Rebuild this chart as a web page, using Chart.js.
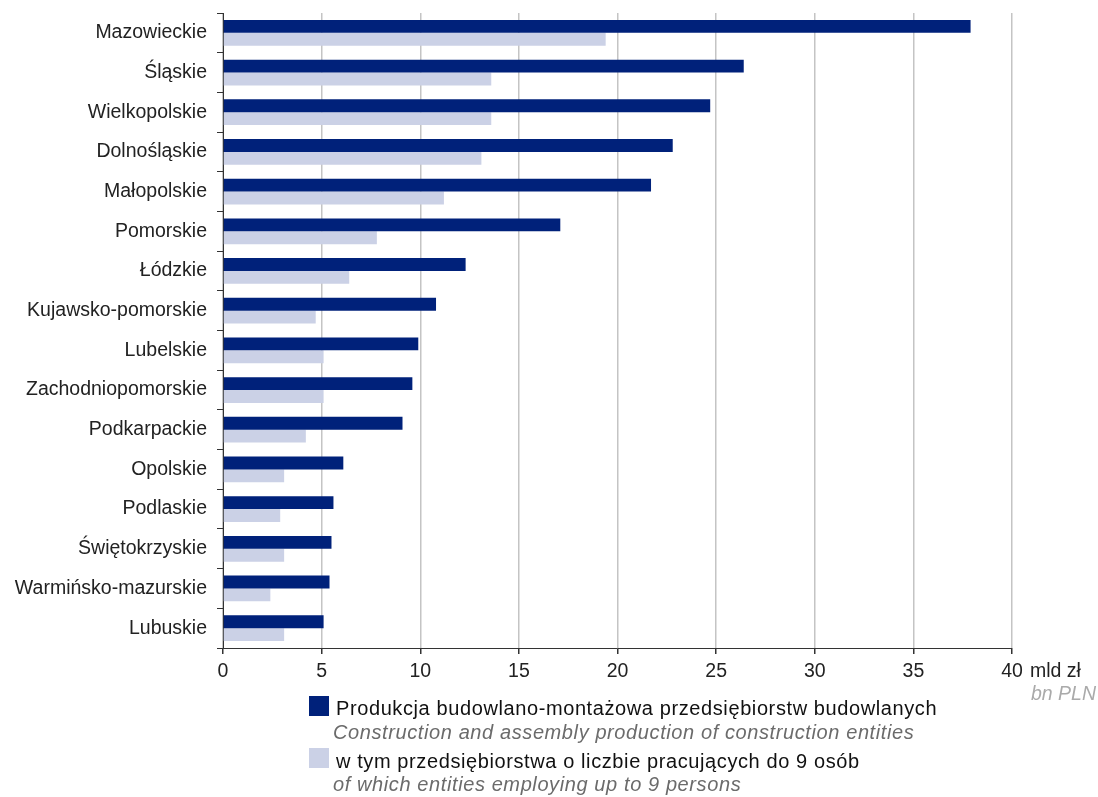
<!DOCTYPE html>
<html>
<head>
<meta charset="utf-8">
<script src="https://cdn.jsdelivr.net/npm/chart.js@4/dist/chart.umd.min.js"></script>
<style>
  body { margin: 0; background: #fff; }
  #wrap { width: 1098px; height: 797px; position: relative; }
</style>
</head>
<body>
<div id="wrap"><canvas id="chart"></canvas></div>
<script>
// Data
const regions = ['Mazowieckie', 'Śląskie', 'Wielkopolskie', 'Dolnośląskie', 'Małopolskie', 'Pomorskie', 'Łódzkie',
    'Kujawsko-pomorskie', 'Lubelskie', 'Zachodniopomorskie', 'Podkarpackie', 'Opolskie', 'Podlaskie',
    'Świętokrzyskie', 'Warmińsko-mazurskie', 'Lubuskie'];
const production = [37.9, 26.4, 24.7, 22.8, 21.7, 17.1, 12.3, 10.8, 9.9, 9.6, 9.1, 6.1, 5.6, 5.5, 5.4, 5.1];
const smallEntities = [19.4, 13.6, 13.6, 13.1, 11.2, 7.8, 6.4, 4.7, 5.1, 5.1, 4.2, 3.1, 2.9, 3.1, 2.4, 3.1];
const xTicks = [0, 5, 10, 15, 20, 25, 30, 35, 40];
const legendPl = ['Produkcja budowlano-montażowa przedsiębiorstw budowlanych', 'w tym przedsiębiorstwa o liczbie pracujących do 9 osób'];
const legendEn = ['Construction and assembly production of construction entities', 'of which entities employing up to 9 persons'];

const colors = {
    dark: '#00217a',
    light: '#cbd1e6'
};
const FONT = 'Liberation Sans, Arial, sans-serif';

// Unit labels and two-language legend drawn below the axis
const extras = {
    id: 'extras',
    afterDraw(chart) {
        const ctx = chart.ctx;
        const area = chart.chartArea;
        ctx.save();
        ctx.textBaseline = 'middle';
        ctx.font = '19.5px ' + FONT;
        ctx.fillStyle = '#222';
        ctx.textAlign = 'left';
        ctx.fillText('mld zł', area.right + 18, 672);
        ctx.font = 'italic 19.5px ' + FONT;
        ctx.fillStyle = '#aaaaaa';
        ctx.textAlign = 'right';
        ctx.fillText('bn PLN', 1096, 695);

        const rows = [
            { color: colors.dark, box: 696, pl: 709, en: 733 },
            { color: colors.light, box: 748, pl: 762, en: 785 }
        ];
        ctx.textAlign = 'left';
        ctx.letterSpacing = '0.6px';
        rows.forEach((r, i) => {
            ctx.fillStyle = r.color;
            ctx.fillRect(309, r.box, 20, 20);
            ctx.font = '20px ' + FONT;
            ctx.fillStyle = '#111';
            ctx.fillText(legendPl[i], 336, r.pl);
            ctx.font = 'italic 20px ' + FONT;
            ctx.fillStyle = '#6b6b6b';
            ctx.fillText(legendEn[i], 333, r.en);
        });
        ctx.restore();
    }
};

new Chart(document.getElementById('chart'), {
    type: 'bar',
    data: {
        labels: regions,
        datasets: [
            {
                label: legendPl[0],
                data: production,
                backgroundColor: colors.dark,
                categoryPercentage: 0.65,
                barPercentage: 1.0
            },
            {
                label: legendPl[1],
                data: smallEntities,
                backgroundColor: colors.light,
                categoryPercentage: 0.65,
                barPercentage: 1.0
            }
        ]
    },
    options: {
        indexAxis: 'y',
        responsive: true,
        maintainAspectRatio: false,
        animation: false,
        layout: {
            padding: { top: 13, right: 86, bottom: 119, left: 0 }
        },
        plugins: {
            legend: { display: false },
            tooltip: { enabled: false }
        },
        scales: {
            x: {
                min: 0,
                max: 40,
                afterBuildTicks: function(scale) {
                    scale.ticks = xTicks.map(v => ({ value: v }));
                },
                afterFit: function(scale) {
                    scale.height = 30;
                },
                border: { color: '#333', width: 1 },
                grid: {
                    color: '#c4c4c4',
                    lineWidth: 1.5,
                    tickColor: '#333',
                    tickLength: 6
                },
                ticks: {
                    color: '#222',
                    padding: 6,
                    font: { family: FONT, size: 19.5 }
                }
            },
            y: {
                afterFit: function(scale) {
                    scale.width = 223;
                    scale.paddingTop = 0;
                    scale.paddingBottom = 0;
                },
                border: { color: '#333', width: 1 },
                grid: {
                    drawOnChartArea: false,
                    offset: true,
                    tickColor: '#333',
                    tickLength: 6
                },
                ticks: {
                    color: '#222',
                    padding: 10,
                    font: { family: FONT, size: 19.5 }
                }
            }
        }
    },
    plugins: [extras]
});
</script>
</body>
</html>
